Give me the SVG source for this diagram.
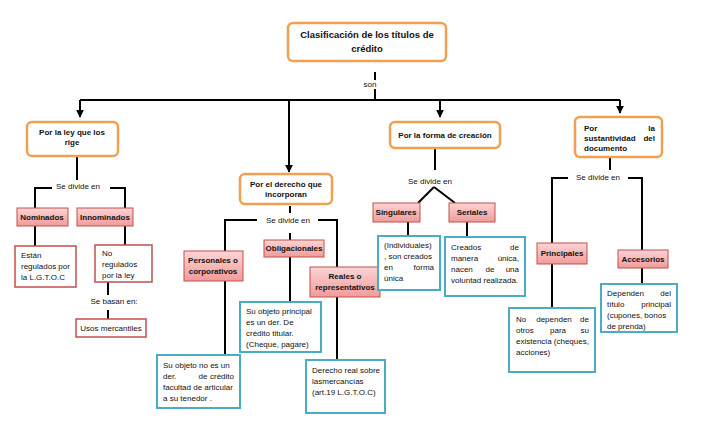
<svg xmlns="http://www.w3.org/2000/svg" width="728" height="442" viewBox="0 0 728 442">
<style>
text{font-family:"Liberation Sans",Arial,sans-serif;fill:#111}
.t{font-size:8px}
.b{font-weight:bold}
.e{text-anchor:end}
.m{text-anchor:middle}
.o{fill:#fff;stroke:#F0A050;stroke-width:2.5}
.p{fill:url(#pg);stroke:#C0504D;stroke-width:1}
.r{fill:#fff;stroke:#C0504D;stroke-width:1.5}
.c{fill:#fff;stroke:#4BACC6;stroke-width:2}
.l{fill:none;stroke:#000;stroke-width:2}
</style>
<defs>
<linearGradient id="pg" x1="0" y1="0" x2="0" y2="1"><stop offset="0" stop-color="#FBD5D5"/><stop offset="1" stop-color="#F29A9A"/></linearGradient>
<marker id="a" viewBox="0 0 10 10" refX="9" refY="5" markerWidth="4" markerHeight="4" orient="auto"><path d="M0,0L10,5L0,10z" fill="#000"/></marker>
</defs>
<rect width="728" height="442" fill="#fff"/>
<g id="connectors">
<path class="l" d="M375 72V80M375 89V100M80 100H620"/>
<path class="l" d="M80 100V117" marker-end="url(#a)"/>
<path class="l" d="M289 100V172" marker-end="url(#a)"/>
<path class="l" d="M440 100V117" marker-end="url(#a)"/>
<path class="l" d="M620 100V113" marker-end="url(#a)"/>
<path class="l" d="M77 156V180M52 188H35V208M110 188H125V208M35 226V247M125 226V245M108 282V295M108 310V320"/>
<path class="l" d="M290 206V213M257 220H225V251M318 220H337V267M290 233V240M225 281V355M290 257V302M337 297V360"/>
<path class="l" d="M435 148V170M434 187L418 203M434 187L455 203M408 222V236M467 222V237"/>
<path class="l" d="M610 157V170M568 178H552V243M628 178H642V250M552 264V308M642 268V284"/>
</g>
<g id="title"><rect class="o" x="288" y="23" width="158" height="38" rx="5"/><text class="b m" font-size="9.5" x="367" y="38">Clasificación de los títulos de</text><text class="b m" font-size="9.5" x="367" y="52">crédito</text></g>
<text class="t m" font-size="7" x="370" y="87">son</text>
<g id="ley"><rect class="o" x="27" y="122" width="91" height="34" rx="5"/><text class="t b m" x="72" y="135">Por la ley que los</text><text class="t b m" x="72" y="145">rige</text></g>
<text class="t m" x="78" y="189">Se divide en</text>
<g id="nom"><rect class="p" x="17" y="208" width="51" height="18"/><text class="t b m" font-size="7" x="42" y="220">Nominados</text></g>
<g id="innom"><rect class="p" x="77" y="208" width="56" height="18"/><text class="t b m" font-size="7" x="105" y="220">Innominados</text></g>
<g id="estan"><rect class="r" x="15" y="246" width="61" height="41"/><text class="t" x="21" y="258">Están</text><text class="t" x="21" y="269">regulados por</text><text class="t" x="21" y="280">la L.G.T.O.C</text></g>
<g id="noreg"><rect class="r" x="95" y="245" width="57" height="37"/><text class="t" x="102" y="256">No</text><text class="t" x="102" y="267">regulados</text><text class="t" x="102" y="278">por la ley</text></g>
<text class="t m" font-size="7" x="114" y="304">Se basan  en:</text>
<g id="usos"><rect class="r" x="76" y="319" width="70" height="18"/><text class="t m" font-size="7" x="111" y="331">Usos mercantiles</text></g>
<g id="derecho"><rect class="o" x="240" y="174" width="92" height="30" rx="5"/><text class="t b m" font-size="7.5" x="286" y="187">Por el derecho que</text><text class="t b m" font-size="7.5" x="286" y="197">incorporan</text></g>
<text class="t m" x="288" y="223">Se divide en</text>
<g id="personales"><rect class="p" x="184" y="251" width="59" height="30"/><text class="t b m" font-size="7" x="213" y="263">Personales o</text><text class="t b m" font-size="7" x="213" y="274">corporativos</text></g>
<g id="oblig"><rect class="p" x="264" y="240" width="60" height="17"/><text class="t b m" font-size="7" x="294" y="251">Obligacionales</text></g>
<g id="reales"><rect class="p" x="310" y="267" width="70" height="30"/><text class="t b m" font-size="7" x="345" y="279">Reales o</text><text class="t b m" font-size="7" x="345" y="290">representativos</text></g>
<g id="suobj"><rect class="c" x="240" y="302" width="81" height="50"/><text class="t" x="246" y="314">Su objeto principal</text><text class="t" x="246" y="325">es un der. De</text><text class="t" x="246" y="336">crédito titular.</text><text class="t" x="246" y="347">(Cheque, pagare)</text></g>
<g id="suobjno"><rect class="c" x="157" y="355" width="83" height="53"/><text class="t" x="163" y="368">Su objeto no es un</text><text class="t" x="163" y="379">der.</text><text class="t m" x="203" y="379">de</text><text class="t e" x="234" y="379">crédito</text><text class="t" x="163" y="390">facultad de articular</text><text class="t" x="163" y="401">a su tenedor .</text></g>
<g id="dreal"><rect class="c" x="306" y="360" width="79" height="53"/><text class="t" x="312" y="373">Derecho real sobre</text><text class="t" x="312" y="384">lasmercancías</text><text class="t" x="312" y="395">(art.19 L.G.T.O.C)</text></g>
<g id="forma"><rect class="o" x="390" y="122" width="110" height="26" rx="5"/><text class="t b m" x="445" y="138">Por la forma de creación</text></g>
<text class="t m" x="430" y="184">Se divide en</text>
<g id="sing"><rect class="p" x="373" y="203" width="47" height="19"/><text class="t b m" font-size="7" x="396" y="215">Singulares</text></g>
<g id="seri"><rect class="p" x="449" y="203" width="46" height="19"/><text class="t b m" font-size="7" x="472" y="215">Seriales</text></g>
<g id="indiv"><rect class="c" x="378" y="236" width="62" height="54"/><text class="t" x="384" y="248">(Individuales)</text><text class="t" x="384" y="259">, son creados</text><text class="t" x="384" y="270">en</text><text class="t e" x="434" y="270">forma</text><text class="t" x="384" y="281">única</text></g>
<g id="creados"><rect class="c" x="445" y="237" width="80" height="59"/><text class="t" x="451" y="250">Creados</text><text class="t e" x="519" y="250">de</text><text class="t" x="451" y="261">manera</text><text class="t e" x="519" y="261">única,</text><text class="t" x="451" y="272">nacen</text><text class="t m" x="490" y="272">de</text><text class="t e" x="519" y="272">una</text><text class="t" x="451" y="283">voluntad realizada.</text></g>
<g id="sust"><rect class="o" x="575" y="117" width="87" height="40" rx="5"/><text class="t b" x="584" y="131">Por</text><text class="t b e" x="655" y="131">la</text><text class="t b" x="584" y="141">sustantividad</text><text class="t b e" x="655" y="141">del</text><text class="t b" x="584" y="151">documento</text></g>
<text class="t m" x="598" y="180">Se divide en</text>
<g id="princ"><rect class="p" x="537" y="243" width="50" height="21"/><text class="t b m" font-size="7" x="562" y="256">Principales</text></g>
<g id="acces"><rect class="p" x="618" y="250" width="50" height="18"/><text class="t b m" font-size="7" x="643" y="262">Accesorios</text></g>
<g id="nodep"><rect class="c" x="509" y="308" width="86" height="64"/><text class="t" x="516" y="322">No</text><text class="t m" x="554" y="322">dependen</text><text class="t e" x="589" y="322">de</text><text class="t" x="516" y="333">otros</text><text class="t m" x="558" y="333">para</text><text class="t e" x="589" y="333">su</text><text class="t" x="516" y="344">existencia (cheques,</text><text class="t" x="516" y="355">acciones)</text></g>
<g id="dep"><rect class="c" x="601" y="284" width="76" height="48"/><text class="t" x="607" y="296">Dependen</text><text class="t e" x="671" y="296">del</text><text class="t" x="607" y="307">título</text><text class="t e" x="671" y="307">principal</text><text class="t" x="607" y="318">(cupones, bonos</text><text class="t" x="607" y="329">de prenda)</text></g>
</svg>
